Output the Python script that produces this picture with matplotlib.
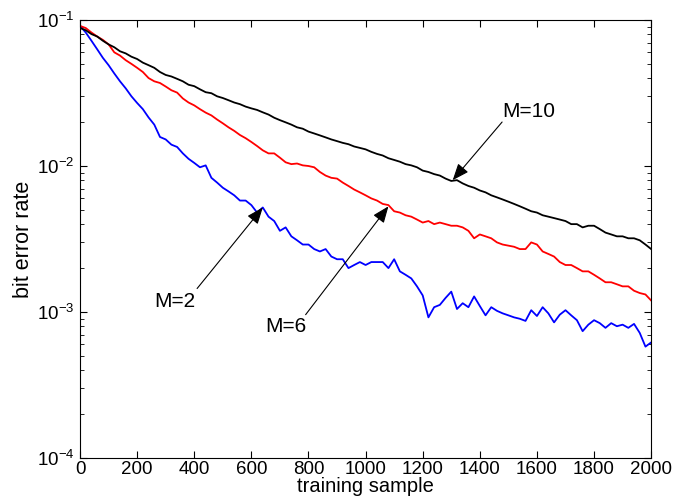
import matplotlib

matplotlib.use("Agg")
import matplotlib.pyplot as plt  # noqa: E402

# training sample index (every 20 samples)
samples = list(range(0, 2001, 20))

ber_m2 = [
    0.091, 0.082, 0.072, 0.063, 0.055, 0.049, 0.043, 0.038, 0.034, 0.030,
    0.027, 0.0245, 0.0215, 0.0192, 0.0158, 0.0152, 0.0140, 0.0135, 0.0122, 0.0112,
    0.0105, 0.0098, 0.0101, 0.0083, 0.0077, 0.0071, 0.0067, 0.0063, 0.0058, 0.0058,
    0.0054, 0.0048, 0.0052, 0.0045, 0.0042, 0.0036, 0.0038, 0.0033, 0.0031, 0.0029,
    0.0029, 0.0027, 0.0026, 0.0027, 0.0024, 0.0023, 0.0023, 0.0020, 0.0021, 0.0022,
    0.0021, 0.0022, 0.0022, 0.0022, 0.0020, 0.0023, 0.0019, 0.0018, 0.0017, 0.0015,
    0.0013, 0.00092, 0.00108, 0.00112, 0.00125, 0.00138, 0.00105, 0.00115, 0.00108, 0.00128,
    0.00110, 0.00095, 0.00108, 0.00102, 0.00098, 0.00095, 0.00092, 0.00090, 0.00087, 0.00103,
    0.00094, 0.00108, 0.00098, 0.00085, 0.00096, 0.00103, 0.00095, 0.00088, 0.00074, 0.00082,
    0.00088, 0.00084, 0.00078, 0.00084, 0.00080, 0.00082, 0.00078, 0.00083, 0.00072, 0.00058,
    0.00062,
]

ber_m6 = [
    0.091, 0.088, 0.082, 0.077, 0.073, 0.068, 0.060, 0.057, 0.053, 0.050,
    0.047, 0.044, 0.040, 0.038, 0.037, 0.035, 0.033, 0.0318, 0.029, 0.0272,
    0.026, 0.0245, 0.0232, 0.0222, 0.0208, 0.0196, 0.0184, 0.0174, 0.0163, 0.0155,
    0.0146, 0.0137, 0.0128, 0.0122, 0.0122, 0.0114, 0.0106, 0.0103, 0.0104, 0.0101,
    0.0100, 0.0098, 0.0091, 0.0086, 0.0083, 0.0082, 0.0077, 0.0073, 0.0069, 0.0066,
    0.0063, 0.0060, 0.0058, 0.0055, 0.0054, 0.0049, 0.0048, 0.0046, 0.0045, 0.0043,
    0.0041, 0.0042, 0.0040, 0.0041, 0.0040, 0.0039, 0.0039, 0.0038, 0.0036, 0.0032,
    0.0034, 0.0033, 0.0032, 0.0030, 0.0029, 0.00285, 0.0028, 0.0027, 0.0027, 0.0030,
    0.0029, 0.0026, 0.0025, 0.0024, 0.0022, 0.0021, 0.0021, 0.0020, 0.0019, 0.0019,
    0.0018, 0.0017, 0.0016, 0.0016, 0.00155, 0.0015, 0.0015, 0.0014, 0.00135, 0.00132,
    0.0012,
]

ber_m10 = [
    0.088, 0.085, 0.080, 0.077, 0.072, 0.068, 0.065, 0.061, 0.059, 0.056,
    0.054, 0.051, 0.049, 0.047, 0.044, 0.042, 0.041, 0.0395, 0.038, 0.036,
    0.0352, 0.0335, 0.032, 0.0315, 0.030, 0.0292, 0.0282, 0.0272, 0.0265, 0.0255,
    0.0248, 0.0242, 0.0233, 0.0225, 0.0214, 0.0206, 0.0199, 0.0192, 0.0184, 0.0180,
    0.0172, 0.0167, 0.0162, 0.0157, 0.0152, 0.0148, 0.0144, 0.0141, 0.0136, 0.0133,
    0.0130, 0.0125, 0.0121, 0.0118, 0.0113, 0.0110, 0.0107, 0.0103, 0.0101, 0.0098,
    0.0093, 0.0091, 0.0088, 0.0086, 0.0082, 0.0079, 0.0080, 0.0076, 0.0073, 0.0071,
    0.0068, 0.0066, 0.0063, 0.0061, 0.0059, 0.0057, 0.0055, 0.0053, 0.0051, 0.0049,
    0.0048, 0.0046, 0.0045, 0.0044, 0.0043, 0.0042, 0.0040, 0.0040, 0.0038, 0.0039,
    0.0039, 0.0037, 0.0035, 0.0034, 0.0033, 0.0033, 0.0032, 0.0032, 0.0031, 0.0029,
    0.0027,
]

# (label, arrow tip, arrow tail, text position)
notes = [
    ("M=2", (640, 0.0052), (410, 0.00145), (333, 0.00118)),
    ("M=6", (1080, 0.0053), (790, 0.00096), (721, 0.00080)),
    ("M=10", (1305, 0.0080), (1478, 0.0200), (1570, 0.0236)),
]

plt.rcParams["font.family"] = ["Liberation Sans", "DejaVu Sans"]
plt.rcParams["mathtext.default"] = "regular"
plt.rcParams["font.size"] = 13.5

fig = plt.figure(figsize=(6.84, 4.98), dpi=100)
ax = fig.add_axes([0.117, 0.08, 0.835, 0.88])

ax.plot(samples, ber_m2, color="#0000ff", lw=1.3)
ax.plot(samples, ber_m6, color="#ff0000", lw=1.3)
ax.plot(samples, ber_m10, color="#000000", lw=1.3)

for label, tip, tail, pos in notes:
    ax.annotate("", xy=tip, xytext=tail,
                arrowprops=dict(arrowstyle="-|>,head_length=0.75,head_width=0.3",
                                color="black", lw=0.8, shrinkA=0, shrinkB=0))
    ax.text(pos[0], pos[1], label, ha="center", va="center", fontsize=15)

ax.set_yscale("log")
ax.set_xlim(0, 2000)
ax.set_ylim(1e-4, 1e-1)
ax.set_xticks(range(0, 2001, 200))
ax.set_xlabel("training sample", fontsize=14.5, labelpad=-1)
ax.set_ylabel("bit error rate", fontsize=15.5, labelpad=2)
ax.tick_params(which="both", direction="in", top=True, right=True, labelsize=13.5)
ax.tick_params(which="major", length=5)
ax.tick_params(axis="x", which="major", pad=2)
ax.tick_params(axis="y", which="major", pad=4)
ax.tick_params(which="minor", length=3)

fig.savefig("out.png", dpi=100)
